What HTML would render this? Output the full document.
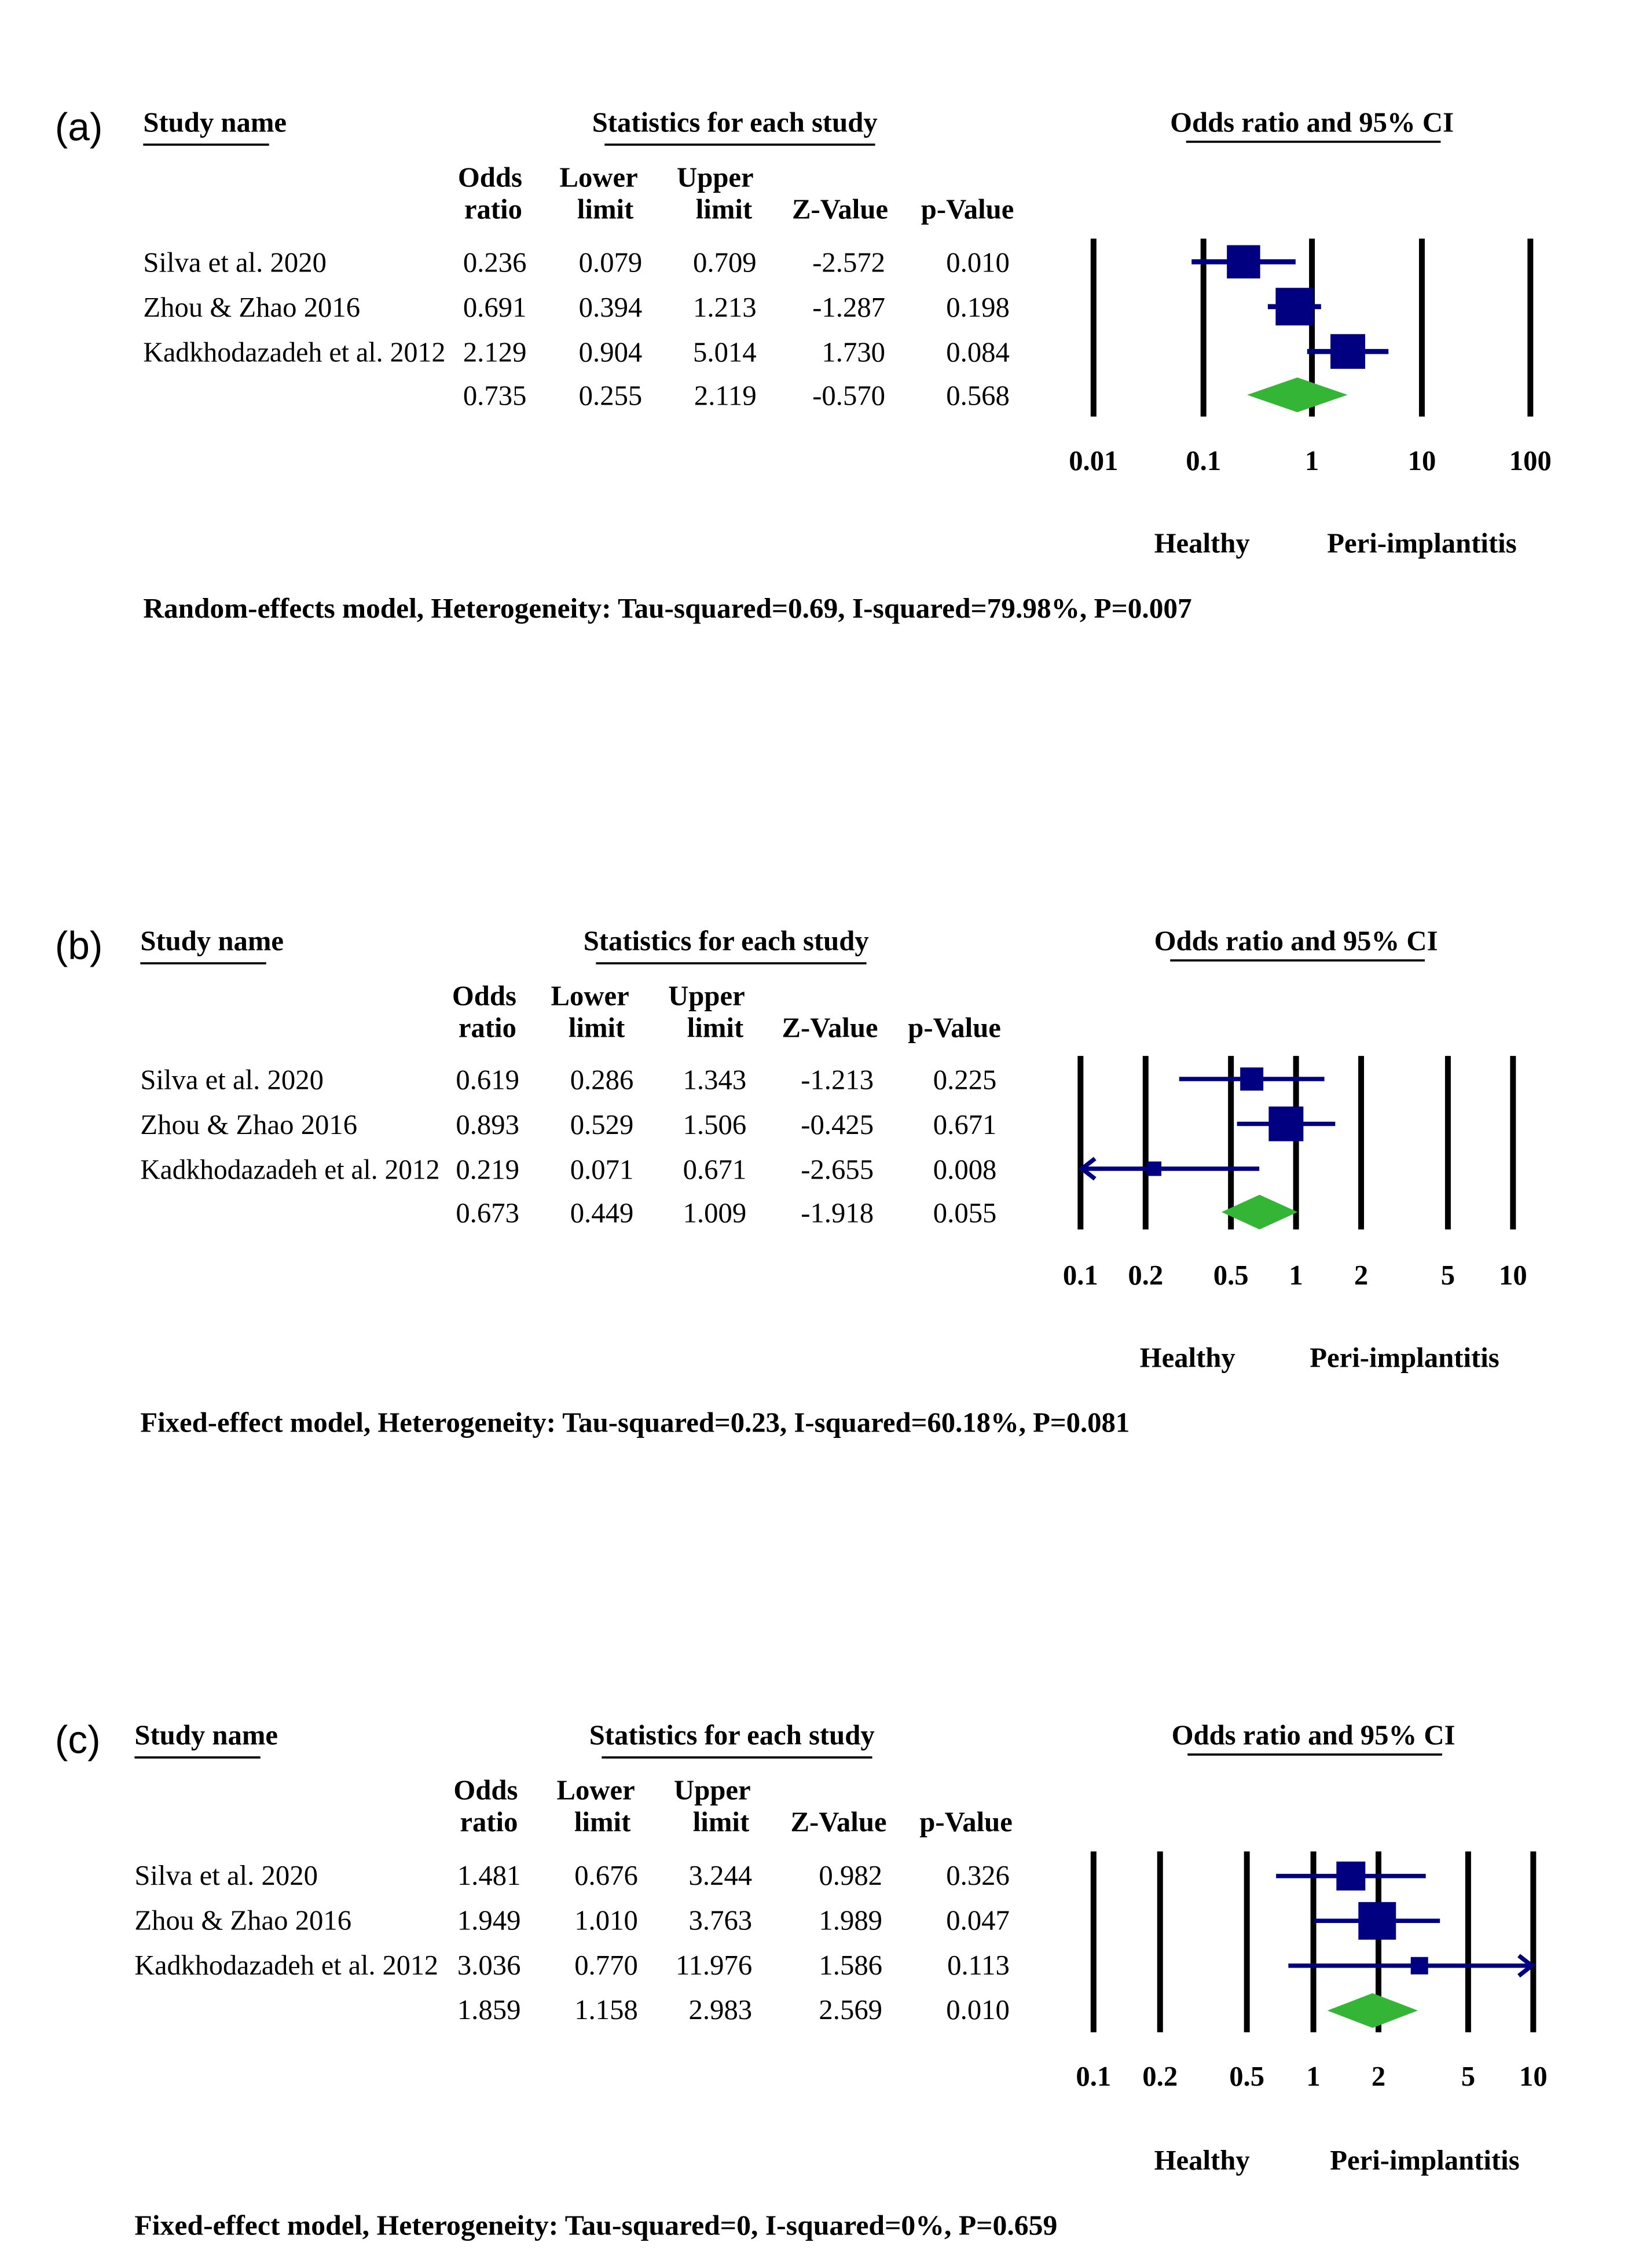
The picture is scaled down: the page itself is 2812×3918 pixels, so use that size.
<!DOCTYPE html>
<html><head><meta charset="utf-8"><style>
html,body{margin:0;padding:0;background:#fff;}
svg{display:block;}
.h{font-family:"Liberation Serif",serif;font-weight:bold;font-size:19.5px;}
.t{font-family:"Liberation Serif",serif;font-size:19.5px;}
.l{font-family:"Liberation Sans",sans-serif;font-size:27px;}
.e{text-anchor:end;}
.m{text-anchor:middle;}
</style></head><body>
<svg width="2812" height="3918" viewBox="0 0 1125.5 1568" preserveAspectRatio="none" xmlns="http://www.w3.org/2000/svg">
<rect width="1130" height="1574" fill="#fff"/>

<!-- ===== Panel A ===== -->
<text class="l" x="38" y="97">(a)</text>
<text class="h" x="99" y="91">Study name</text>
<line x1="99" y1="100" x2="186" y2="100" stroke="#000" stroke-width="1.5"/>
<text class="h m" x="508" y="91">Statistics for each study</text>
<line x1="418" y1="100" x2="605" y2="100" stroke="#000" stroke-width="1.5"/>
<text class="h m" x="907" y="91">Odds ratio and 95% CI</text>
<line x1="820" y1="98" x2="996" y2="98" stroke="#000" stroke-width="1.5"/>
<g class="h e">
<text x="361" y="129">Odds</text><text x="361" y="151">ratio</text>
<text x="441" y="129">Lower</text><text x="438" y="151">limit</text>
<text x="521" y="129">Upper</text><text x="520" y="151">limit</text>
<text x="614" y="151">Z-Value</text><text x="701" y="151">p-Value</text>
</g>
<g class="t"><text x="99" y="188">Silva et al. 2020</text><text x="99" y="219">Zhou &amp; Zhao 2016</text><text x="99" y="250" textLength="209" lengthAdjust="spacingAndGlyphs">Kadkhodazadeh et al. 2012</text></g>
<g class="t e">
<text x="364" y="188">0.236</text><text x="444" y="188">0.079</text><text x="523" y="188">0.709</text><text x="612" y="188">-2.572</text><text x="698" y="188">0.010</text>
<text x="364" y="219">0.691</text><text x="444" y="219">0.394</text><text x="523" y="219">1.213</text><text x="612" y="219">-1.287</text><text x="698" y="219">0.198</text>
<text x="364" y="250">2.129</text><text x="444" y="250">0.904</text><text x="523" y="250">5.014</text><text x="612" y="250">1.730</text><text x="698" y="250">0.084</text>
<text x="364" y="280">0.735</text><text x="444" y="280">0.255</text><text x="523" y="280">2.119</text><text x="612" y="280">-0.570</text><text x="698" y="280">0.568</text>
</g>
<g stroke="#000" stroke-width="4">
<line x1="756" y1="165" x2="756" y2="288"/><line x1="832" y1="165" x2="832" y2="288"/><line x1="907" y1="165" x2="907" y2="288"/><line x1="983" y1="165" x2="983" y2="288"/><line x1="1058" y1="165" x2="1058" y2="288"/>
</g>
<g stroke="#000080" stroke-width="3.5">
<line x1="823.8" y1="181" x2="895.7" y2="181"/><line x1="876.5" y1="212" x2="913.3" y2="212"/><line x1="903.7" y1="243" x2="959.9" y2="243"/>
</g>
<g fill="#000080">
<rect x="848.2" y="169.5" width="23" height="23"/><rect x="881.9" y="199" width="26" height="26"/><rect x="919.8" y="231" width="24" height="24"/>
</g>
<polygon points="862.2,273 896.9,261 931.6,273 896.9,285" fill="#35b535"/>
<g class="h m">
<text x="756" y="325">0.01</text><text x="832" y="325">0.1</text><text x="907" y="325">1</text><text x="983" y="325">10</text><text x="1058" y="325">100</text>
<text x="831" y="382">Healthy</text><text x="983" y="382">Peri-implantitis</text>
</g>
<text class="h" x="99" y="427" textLength="725" lengthAdjust="spacingAndGlyphs">Random-effects model, Heterogeneity: Tau-squared=0.69, I-squared=79.98%, P=0.007</text>

<!-- ===== Panel B ===== -->
<text class="l" x="38" y="663">(b)</text>
<text class="h" x="97" y="657">Study name</text>
<line x1="97" y1="666" x2="184" y2="666" stroke="#000" stroke-width="1.5"/>
<text class="h m" x="502" y="657">Statistics for each study</text>
<line x1="412" y1="666" x2="599" y2="666" stroke="#000" stroke-width="1.5"/>
<text class="h m" x="896" y="657">Odds ratio and 95% CI</text>
<line x1="809" y1="664" x2="985" y2="664" stroke="#000" stroke-width="1.5"/>
<g class="h e">
<text x="357" y="695">Odds</text><text x="357" y="717">ratio</text>
<text x="435" y="695">Lower</text><text x="432" y="717">limit</text>
<text x="515" y="695">Upper</text><text x="514" y="717">limit</text>
<text x="607" y="717">Z-Value</text><text x="692" y="717">p-Value</text>
</g>
<g class="t"><text x="97" y="753">Silva et al. 2020</text><text x="97" y="784">Zhou &amp; Zhao 2016</text><text x="97" y="815" textLength="207" lengthAdjust="spacingAndGlyphs">Kadkhodazadeh et al. 2012</text></g>
<g class="t e">
<text x="359" y="753">0.619</text><text x="438" y="753">0.286</text><text x="516" y="753">1.343</text><text x="604" y="753">-1.213</text><text x="689" y="753">0.225</text>
<text x="359" y="784">0.893</text><text x="438" y="784">0.529</text><text x="516" y="784">1.506</text><text x="604" y="784">-0.425</text><text x="689" y="784">0.671</text>
<text x="359" y="815">0.219</text><text x="438" y="815">0.071</text><text x="516" y="815">0.671</text><text x="604" y="815">-2.655</text><text x="689" y="815">0.008</text>
<text x="359" y="845">0.673</text><text x="438" y="845">0.449</text><text x="516" y="845">1.009</text><text x="604" y="845">-1.918</text><text x="689" y="845">0.055</text>
</g>
<g stroke="#000" stroke-width="4">
<line x1="747" y1="730" x2="747" y2="850"/><line x1="792" y1="730" x2="792" y2="850"/><line x1="851" y1="730" x2="851" y2="850"/><line x1="896" y1="730" x2="896" y2="850"/><line x1="941" y1="730" x2="941" y2="850"/><line x1="1001" y1="730" x2="1001" y2="850"/><line x1="1046" y1="730" x2="1046" y2="850"/>
</g>
<g stroke="#000080" stroke-width="3" fill="none">
<line x1="815.2" y1="746" x2="915.6" y2="746"/><line x1="855.2" y1="777" x2="923.1" y2="777"/><line x1="748" y1="808" x2="870.6" y2="808"/>
<polyline points="757,801 748,808 757,815"/>
</g>
<g fill="#000080">
<rect x="857.4" y="738" width="16" height="16"/><rect x="877.1" y="765" width="24" height="24"/><rect x="792.9" y="803" width="10" height="10"/>
</g>
<polygon points="844.5,838 870.8,826 897.1,838 870.8,850" fill="#35b535"/>
<g class="h m">
<text x="747" y="888">0.1</text><text x="792" y="888">0.2</text><text x="851" y="888">0.5</text><text x="896" y="888">1</text><text x="941" y="888">2</text><text x="1001" y="888">5</text><text x="1046" y="888">10</text>
<text x="821" y="945">Healthy</text><text x="971" y="945">Peri-implantitis</text>
</g>
<text class="h" x="97" y="990" textLength="684" lengthAdjust="spacingAndGlyphs">Fixed-effect model, Heterogeneity: Tau-squared=0.23, I-squared=60.18%, P=0.081</text>

<!-- ===== Panel C ===== -->
<text class="l" x="38" y="1212">(c)</text>
<text class="h" x="93" y="1206">Study name</text>
<line x1="93" y1="1215" x2="180" y2="1215" stroke="#000" stroke-width="1.5"/>
<text class="h m" x="506" y="1206">Statistics for each study</text>
<line x1="416" y1="1215" x2="603" y2="1215" stroke="#000" stroke-width="1.5"/>
<text class="h m" x="908" y="1206">Odds ratio and 95% CI</text>
<line x1="821" y1="1213" x2="997" y2="1213" stroke="#000" stroke-width="1.5"/>
<g class="h e">
<text x="358" y="1244">Odds</text><text x="358" y="1266">ratio</text>
<text x="439" y="1244">Lower</text><text x="436" y="1266">limit</text>
<text x="519" y="1244">Upper</text><text x="518" y="1266">limit</text>
<text x="613" y="1266">Z-Value</text><text x="700" y="1266">p-Value</text>
</g>
<g class="t"><text x="93" y="1303">Silva et al. 2020</text><text x="93" y="1334">Zhou &amp; Zhao 2016</text><text x="93" y="1365" textLength="210" lengthAdjust="spacingAndGlyphs">Kadkhodazadeh et al. 2012</text></g>
<g class="t e">
<text x="360" y="1303">1.481</text><text x="441" y="1303">0.676</text><text x="520" y="1303">3.244</text><text x="610" y="1303">0.982</text><text x="698" y="1303">0.326</text>
<text x="360" y="1334">1.949</text><text x="441" y="1334">1.010</text><text x="520" y="1334">3.763</text><text x="610" y="1334">1.989</text><text x="698" y="1334">0.047</text>
<text x="360" y="1365">3.036</text><text x="441" y="1365">0.770</text><text x="520" y="1365">11.976</text><text x="610" y="1365">1.586</text><text x="698" y="1365">0.113</text>
<text x="360" y="1396">1.859</text><text x="441" y="1396">1.158</text><text x="520" y="1396">2.983</text><text x="610" y="1396">2.569</text><text x="698" y="1396">0.010</text>
</g>
<g stroke="#000" stroke-width="4">
<line x1="756" y1="1280" x2="756" y2="1405"/><line x1="802" y1="1280" x2="802" y2="1405"/><line x1="862" y1="1280" x2="862" y2="1405"/><line x1="908" y1="1280" x2="908" y2="1405"/><line x1="953" y1="1280" x2="953" y2="1405"/><line x1="1015" y1="1280" x2="1015" y2="1405"/><line x1="1060" y1="1280" x2="1060" y2="1405"/>
</g>
<g stroke="#000080" stroke-width="3" fill="none">
<line x1="882.2" y1="1297" x2="985.7" y2="1297"/><line x1="908.7" y1="1328" x2="995.5" y2="1328"/><line x1="890.7" y1="1359" x2="1059" y2="1359"/>
<polyline points="1050,1352 1059,1359 1050,1366"/>
</g>
<g fill="#000080">
<rect x="923.9" y="1287" width="20" height="20"/><rect x="939.1" y="1315" width="26" height="26"/><rect x="975.3" y="1353" width="12" height="12"/>
</g>
<polygon points="917.7,1390 948.9,1378 980.2,1390 948.9,1402" fill="#35b535"/>
<g class="h m">
<text x="756" y="1442">0.1</text><text x="802" y="1442">0.2</text><text x="862" y="1442">0.5</text><text x="908" y="1442">1</text><text x="953" y="1442">2</text><text x="1015" y="1442">5</text><text x="1060" y="1442">10</text>
<text x="831" y="1500">Healthy</text><text x="985" y="1500">Peri-implantitis</text>
</g>
<text class="h" x="93" y="1545" textLength="638" lengthAdjust="spacingAndGlyphs">Fixed-effect model, Heterogeneity: Tau-squared=0, I-squared=0%, P=0.659</text>
</svg>
</body></html>
